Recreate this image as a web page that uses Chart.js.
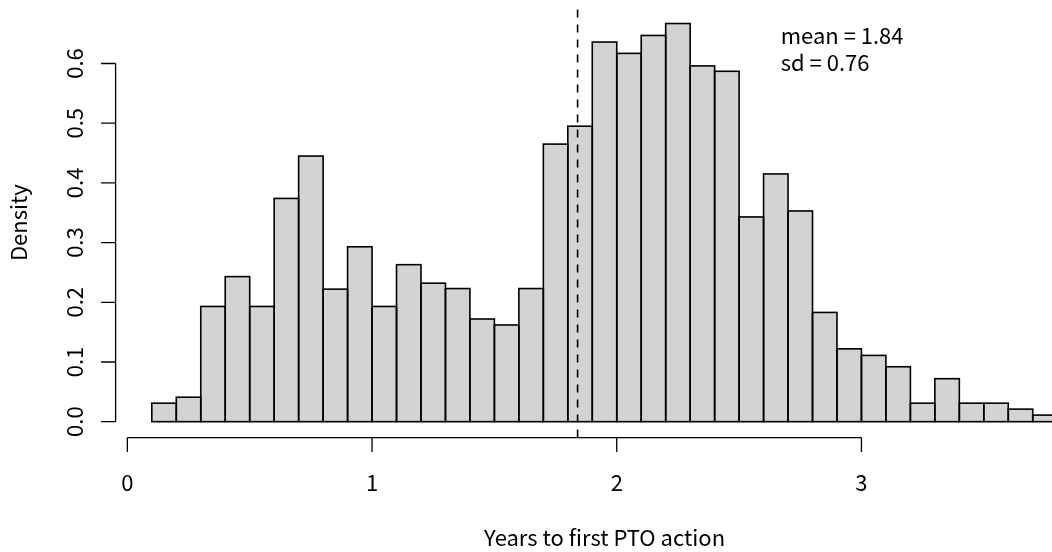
<!DOCTYPE html>
<html>
<head>
<meta charset="utf-8">
<script src="https://cdn.jsdelivr.net/npm/chart.js@4/dist/chart.umd.min.js"></script>
<style>
  html, body { margin: 0; padding: 0; background: #ffffff; }
  #wrap { width: 1052px; height: 552px; }
</style>
</head>
<body>
<div id="wrap"><canvas id="c" width="1052" height="552"></canvas></div>
<script>
// ---- data ----
const binStarts = [0.1, 0.2, 0.3, 0.4, 0.5, 0.6, 0.7, 0.8, 0.9, 1.0,
                   1.1, 1.2, 1.3, 1.4, 1.5, 1.6, 1.7, 1.8, 1.9, 2.0,
                   2.1, 2.2, 2.3, 2.4, 2.5, 2.6, 2.7, 2.8, 2.9, 3.0,
                   3.1, 3.2, 3.3, 3.4, 3.5, 3.6, 3.7];
const binWidth = 0.1;
const density = [0.031, 0.041, 0.193, 0.243, 0.193, 0.374, 0.445, 0.222, 0.293, 0.193,
                 0.263, 0.232, 0.223, 0.172, 0.162, 0.223, 0.465, 0.495, 0.636, 0.617,
                 0.647, 0.667, 0.596, 0.587, 0.343, 0.415, 0.353, 0.183, 0.122, 0.111,
                 0.092, 0.031, 0.072, 0.031, 0.031, 0.021, 0.011];
const xTicks = [0, 1, 2, 3];
const xTickLabels = ['0', '1', '2', '3'];
const yTicks = [0, 0.1, 0.2, 0.3, 0.4, 0.5, 0.6];
const yTickLabels = ['0.0', '0.1', '0.2', '0.3', '0.4', '0.5', '0.6'];
const meanValue = 1.84;
const sdValue = 0.76;
const annotationLines = ['mean = 1.84', 'sd = 0.76'];
const xTitle = 'Years to first PTO action';
const yTitle = 'Density';

// ---- R-like axis limits (4% extension of data range) ----
const xLo = binStarts[0], xHi = binStarts[binStarts.length - 1] + binWidth;
const yHi = Math.max(...density);
const xMin = xLo - 0.04 * (xHi - xLo);
const xMaxFull = xHi + 0.04 * (xHi - xLo);
const yMin = -0.04 * yHi;
const yMax = yHi + 0.04 * yHi;

const FONT = '"Noto Sans CJK KR", "Noto Sans", sans-serif';
const FS = 22;

const W = 1052, H = 552;
const padLeft = 115.6, padTop = 7.6, padBottom = H - 437.6;
// the plot region runs past the right edge of the picture; visible x max:
const xMaxVisible = xMin + (W - padLeft) / 244.7;

const rAxes = {
  id: 'rAxes',
  afterDatasetsDraw(chart) {
    const ctx = chart.ctx;
    const xs = chart.scales.x, ys = chart.scales.y;
    const area = chart.chartArea;
    // bar outlines
    const meta = chart.getDatasetMeta(0);
    ctx.save();
    ctx.strokeStyle = '#000';
    ctx.lineWidth = 1.6;
    meta.data.forEach(bar => {
      const p = bar.getProps(['x', 'y', 'base', 'width'], true);
      ctx.strokeRect(p.x - p.width / 2, p.y, p.width, p.base - p.y);
    });
    ctx.restore();

    // dashed mean line (from bottom of plot region to top)
    ctx.save();
    ctx.strokeStyle = '#000';
    ctx.lineWidth = 1.6;
    ctx.setLineDash([8, 7]);
    const mx = xs.getPixelForValue(meanValue);
    ctx.beginPath();
    ctx.moveTo(mx, ys.getPixelForValue(yMin));
    ctx.lineTo(mx, ys.getPixelForValue(yMax));
    ctx.stroke();
    ctx.restore();

    ctx.save();
    ctx.strokeStyle = '#000';
    ctx.fillStyle = '#000';
    ctx.lineWidth = 1.3;
    const tick = 14.5;
    // x axis
    const yAx = area.bottom;
    ctx.beginPath();
    ctx.moveTo(xs.getPixelForValue(xTicks[0]), yAx);
    ctx.lineTo(xs.getPixelForValue(xTicks[xTicks.length - 1]), yAx);
    xTicks.forEach(v => {
      const px = xs.getPixelForValue(v);
      ctx.moveTo(px, yAx);
      ctx.lineTo(px, yAx + tick);
    });
    ctx.stroke();
    ctx.font = FS + 'px ' + FONT;
    ctx.textAlign = 'center';
    ctx.textBaseline = 'middle';
    xTicks.forEach((v, i) => {
      ctx.fillText(xTickLabels[i], xs.getPixelForValue(v), 483);
    });
    // y axis
    const xAx = area.left;
    ctx.beginPath();
    ctx.moveTo(xAx, ys.getPixelForValue(yTicks[0]));
    ctx.lineTo(xAx, ys.getPixelForValue(yTicks[yTicks.length - 1]));
    yTicks.forEach(v => {
      const py = ys.getPixelForValue(v);
      ctx.moveTo(xAx, py);
      ctx.lineTo(xAx - tick, py);
    });
    ctx.stroke();
    yTicks.forEach((v, i) => {
      ctx.save();
      ctx.translate(75, ys.getPixelForValue(v));
      ctx.rotate(-Math.PI / 2);
      ctx.fillText(yTickLabels[i], 0, 0);
      ctx.restore();
    });
    // titles
    ctx.fillText(xTitle, xs.getPixelForValue((xMin + xMaxFull) / 2), 538);
    ctx.save();
    ctx.translate(19, ys.getPixelForValue((yMin + yMax) / 2));
    ctx.rotate(-Math.PI / 2);
    ctx.fillText(yTitle, 0, 0);
    ctx.restore();
    // annotation
    ctx.textAlign = 'left';
    ctx.fillText(annotationLines[0], xs.getPixelForValue(2.67), ys.getPixelForValue(0.646));
    ctx.fillText(annotationLines[1], xs.getPixelForValue(2.67), ys.getPixelForValue(0.602));
    ctx.restore();
  }
};

new Chart(document.getElementById('c'), {
  type: 'bar',
  data: {
    datasets: [{
      data: binStarts.map((s, i) => ({ x: s + binWidth / 2, y: density[i] })),
      backgroundColor: '#D3D3D3',
      borderWidth: 0,
      barPercentage: 1,
      categoryPercentage: 1,
      inflateAmount: 0
    }]
  },
  options: {
    responsive: false,
    animation: false,
    events: [],
    layout: { padding: { left: padLeft, top: padTop, right: 0, bottom: padBottom } },
    plugins: { legend: { display: false }, tooltip: { enabled: false } },
    scales: {
      x: {
        type: 'linear', display: false, min: xMin, max: xMaxVisible, offset: false,
        afterBuildTicks: s => { s.ticks = xTicks.map(v => ({ value: v })); }
      },
      y: {
        type: 'linear', display: false, min: yMin, max: yMax,
        afterBuildTicks: s => { s.ticks = yTicks.map(v => ({ value: v })); }
      }
    }
  },
  plugins: [rAxes]
});
</script>
</body>
</html>
